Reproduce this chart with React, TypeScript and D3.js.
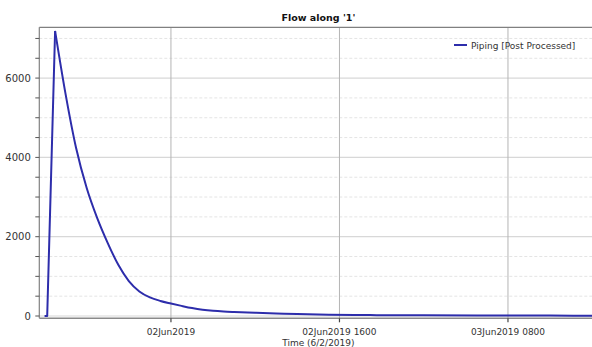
import { useEffect } from 'react';
import { scaleTime, scaleLinear, line, curveLinear, curveMonotoneX, timeParse, range, maxIndex } from 'd3';

// ============================================
// DATA
// ============================================

const times = [
  '2019-06-01 12:00', '2019-06-01 12:15', '2019-06-01 13:00', '2019-06-01 14:00',
  '2019-06-01 15:00', '2019-06-01 16:00', '2019-06-01 17:00', '2019-06-01 18:00',
  '2019-06-01 19:00', '2019-06-01 20:00', '2019-06-01 21:00', '2019-06-01 22:00',
  '2019-06-01 23:00', '2019-06-02 00:00', '2019-06-02 01:00', '2019-06-02 02:00',
  '2019-06-02 03:00', '2019-06-02 04:00', '2019-06-02 05:00', '2019-06-02 06:00',
  '2019-06-02 08:00', '2019-06-02 10:00', '2019-06-02 12:00', '2019-06-02 15:00',
  '2019-06-02 18:00', '2019-06-03 00:00', '2019-06-03 06:00', '2019-06-03 12:00',
  '2019-06-03 16:30',
];

const flow = [
  0, 0, 7190, 5590,
  4230, 3230, 2470, 1840,
  1290, 880, 620, 470,
  380, 315, 255, 200,
  158, 130, 112, 100,
  82, 65, 50, 32,
  24, 17, 13, 10,
  8,
];

const xTickTimes = ['2019-06-02 00:00', '2019-06-02 16:00', '2019-06-03 08:00'];
const xTickLabels = ['02Jun2019', '02Jun2019 1600', '03Jun2019 0800'];
const yMajorTicks = [0, 2000, 4000, 6000];
const xDomain = ['2019-06-01 11:30', '2019-06-03 16:30'];
const yDomain = [-58, 7281];

const seriesName = 'Piping [Post Processed]';
const chartTitle = "Flow along '1'";
const xAxisTitle = 'Time (6/2/2019)';

// ============================================
// COMPONENT
// ============================================

const W = 592;
const H = 347;
const margin = { left: 39.3, top: 27.3, right: 597.5, bottom: 318.3 };
const FONT = '"DejaVu Sans", Verdana, sans-serif';
const LINE_COLOR = '#2d2dab';

type Pt = { t: Date; v: number };

export default function App() {
  useEffect(() => {
    document.body.style.margin = '0';
  }, []);

  const parse = timeParse('%Y-%m-%d %H:%M');
  const points: Pt[] = times.map((t, i) => ({ t: parse(t) as Date, v: flow[i] }));

  const x = scaleTime()
    .domain(xDomain.map((d) => parse(d) as Date))
    .range([margin.left, margin.right]);
  const y = scaleLinear().domain(yDomain).range([margin.bottom, margin.top]);

  const minorTicks = range(0, yDomain[1], 500).filter((v) => v % 2000 !== 0);

  // rise is straight, recession is smooth; split at the peak so it stays sharp
  const peak = maxIndex(points, (d) => d.v);
  const riseGen = line<Pt>().x((d) => x(d.t)).y((d) => y(d.v)).curve(curveLinear);
  const fallGen = line<Pt>().x((d) => x(d.t)).y((d) => y(d.v)).curve(curveMonotoneX);

  const centerX = (margin.left + margin.right) / 2;

  return (
    <svg width={W} height={H} style={{ display: 'block', background: '#fff' }} fontFamily={FONT}>
      <defs>
        <clipPath id="plot-clip">
          <rect x={margin.left} y={margin.top} width={margin.right - margin.left} height={margin.bottom - margin.top} />
        </clipPath>
      </defs>

      {/* Minor grid (dashed) */}
      {minorTicks.map((v) => (
        <line
          key={`mg-${v}`}
          x1={margin.left}
          x2={margin.right}
          y1={y(v)}
          y2={y(v)}
          stroke="#e4e4e4"
          strokeDasharray="3 2"
          strokeWidth={1}
        />
      ))}

      {/* Major grid */}
      {yMajorTicks.map((v) => (
        <line
          key={`g-${v}`}
          x1={margin.left}
          x2={margin.right}
          y1={y(v)}
          y2={y(v)}
          stroke="#d8d8d8"
          strokeWidth={1.2}
        />
      ))}
      {xTickTimes.map((t) => (
        <line
          key={`vg-${t}`}
          x1={x(parse(t) as Date)}
          x2={x(parse(t) as Date)}
          y1={margin.top}
          y2={margin.bottom}
          stroke="#b4b4b4"
          strokeWidth={1}
        />
      ))}

      {/* Frame */}
      <line x1={margin.left} x2={margin.right} y1={margin.top} y2={margin.top} stroke="#808080" strokeWidth={1.2} />
      <line x1={margin.left} x2={margin.left} y1={margin.top} y2={margin.bottom} stroke="#808080" strokeWidth={1.2} />
      <line x1={margin.left} x2={margin.right} y1={margin.bottom} y2={margin.bottom} stroke="#8a8a8a" strokeWidth={1.6} />

      {/* Y ticks */}
      {[...yMajorTicks, ...minorTicks].map((v) => (
        <line
          key={`yt-${v}`}
          x1={margin.left - 4}
          x2={margin.left}
          y1={y(v)}
          y2={y(v)}
          stroke="#555"
          strokeWidth={1}
        />
      ))}
      {yMajorTicks.map((v) => (
        <text key={`yl-${v}`} x={margin.left - 8.5} y={y(v)} dy="0.35em" textAnchor="end" fontSize={10} fill="#333">
          {v}
        </text>
      ))}

      {/* X ticks */}
      {xTickTimes.map((t, i) => {
        const px = x(parse(t) as Date);
        return (
          <g key={`xt-${t}`}>
            <line x1={px} x2={px} y1={margin.bottom} y2={margin.bottom + 4} stroke="#444" strokeWidth={1.2} />
            <text x={px} y={335} textAnchor="middle" fontSize={9} fill="#333">
              {xTickLabels[i]}
            </text>
          </g>
        );
      })}

      {/* Series */}
      <g clipPath="url(#plot-clip)" fill="none" stroke={LINE_COLOR} strokeWidth={2} strokeLinejoin="round">
        <path d={riseGen(points.slice(0, peak + 1)) ?? ''} />
        <path d={fallGen(points.slice(peak)) ?? ''} />
      </g>

      {/* Legend */}
      <line x1={454} x2={467} y1={45} y2={45} stroke={LINE_COLOR} strokeWidth={2} />
      <text x={471} y={48.5} fontSize={9} fill="#333">
        {seriesName}
      </text>

      {/* Titles */}
      <text x={centerX} y={20.5} textAnchor="middle" fontSize={9.5} fontWeight="bold" fill="#111">
        {chartTitle}
      </text>
      <text x={centerX} y={346} textAnchor="middle" fontSize={9} fill="#333">
        {xAxisTitle}
      </text>
    </svg>
  );
}
